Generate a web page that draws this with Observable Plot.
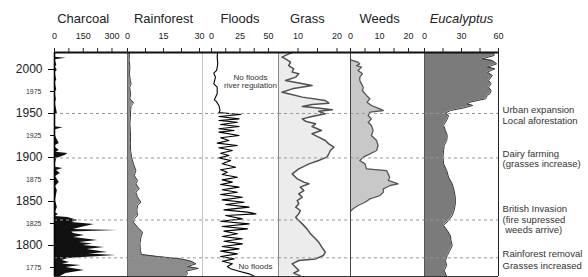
<!DOCTYPE html>
<html><head><meta charset="utf-8">
<script src="https://cdn.jsdelivr.net/npm/d3@7"></script>
<script src="https://cdn.jsdelivr.net/npm/@observablehq/plot@0.6"></script>
<style>
body{margin:0;background:#fff;}
#chart{position:relative;width:588px;height:277px;}
#chart svg{position:absolute;left:0;top:0;}
</style></head><body><div id="chart"></div>
<script>
// ---- data: [year, value] ----
const charcoal = [[2019.3,5],[2014,2],[2012.9,61],[2011,3],[2004.5,12],[2003,2],[1998.9,15],[1997,2],[1987.5,12],[1986,2],[1976.1,12],[1975,2],[1964.8,10],[1963,2],[1950.4,15],[1948,2],[1935,3],[1933.7,45],[1931.4,5],[1925,3],[1915.9,25],[1913.5,5],[1911.4,5],[1908,25],[1906,8],[1904.5,70],[1902.3,55],[1898.9,10],[1893.2,5],[1889,5],[1887.5,44],[1885.2,10],[1881.8,30],[1878.4,5],[1871.6,25],[1867,5],[1862.5,15],[1851.1,5],[1843.2,15],[1837.5,5],[1835.2,20],[1833,5],[1831.8,70],[1828.4,122],[1826.1,90],[1823.9,208],[1820.5,139],[1818.2,100],[1817,330],[1815.3,90],[1813.6,100],[1811.4,157],[1809.1,100],[1805.7,226],[1803.4,130],[1801.7,200],[1800,150],[1797.7,261],[1795.5,170],[1792,278],[1790.3,180],[1788.6,322],[1786.4,150],[1785.2,70],[1783,40],[1780.7,80],[1779,40],[1777.3,139],[1775,60],[1771.6,157],[1768.2,60],[1764.8,30]];
const rainforest = [[2019.3,0.8],[2010.2,0.7],[2002.7,1.0],[1995.1,0.8],[1987.5,1.2],[1983.7,1.5],[1979.9,0.9],[1972.4,1.3],[1966.7,1.0],[1964,2.0],[1961.7,2.5],[1959.1,1.5],[1953.4,1.3],[1945.8,1.2],[1938.3,1.0],[1930.7,1.2],[1923.1,1.3],[1915.5,1.2],[1908,1.3],[1900.4,1.7],[1892.8,2.5],[1885.2,3.5],[1879.5,2.8],[1873.9,4.2],[1870.1,3.5],[1864.4,4.9],[1860.6,3.5],[1854.9,4.2],[1849.2,5.6],[1845.5,4.2],[1839.8,3.9],[1834.1,4.2],[1830.3,2.8],[1826.5,2.5],[1820.8,4.2],[1815.1,6.3],[1809.5,5.6],[1801.9,5.2],[1794.3,5.4],[1789.8,5.8],[1787.5,12.5],[1784.8,22.2],[1782.2,26.4],[1779.2,28.5],[1776.1,25],[1774,29.5],[1771,24.5],[1768,25],[1764.8,24]];
const floods = [[2019.3,5.3],[2014,5.0],[2006.4,5.5],[1998.9,4.5],[1995.9,2.0],[1994.4,2.5],[1991.3,3.5],[1983.7,2.0],[1979.9,5.0],[1972.4,5.0],[1965.5,2.5],[1964,4.0],[1959.1,6.5],[1953.4,7.5],[1951,6.5],[1948.9,25.7],[1946.6,6.5],[1943.9,24.2],[1942,6.5],[1940.1,22.7],[1937.5,8],[1935.2,24.2],[1932.6,6.5],[1930.7,19.8],[1928.8,6.5],[1925,24.2],[1922.4,8],[1919.3,15.3],[1916.3,5],[1913.6,22.7],[1911,6.5],[1908,18.3],[1904.9,8],[1902.3,15.3],[1899.6,6.5],[1896.6,16.8],[1892.8,9.4],[1889,21.2],[1886,8],[1883.3,13.9],[1880.7,9.4],[1877.6,22.7],[1874.6,9.4],[1872,18.3],[1869.3,8],[1866.3,24.2],[1863.3,9.4],[1860.6,22.7],[1858,8],[1854.9,27.1],[1851.9,9.4],[1849.2,28.6],[1846.6,12.4],[1843.6,33],[1840.5,10.9],[1837.9,31.6],[1836,39],[1834.1,12.4],[1830.3,27.1],[1827.6,8],[1824.6,33],[1821.6,9.4],[1818.9,31.6],[1816.3,10.9],[1813.3,22.7],[1810.2,9.4],[1807.6,27.1],[1804.9,10.9],[1801.9,27.1],[1798.9,9.4],[1796.2,24.2],[1793.6,8],[1790.5,22.7],[1787.5,8],[1784.8,19.8],[1782.2,9.4],[1779.2,18.3],[1776.1,13.9],[1773.5,16.8],[1770.8,24.2],[1767.8,33],[1764.8,38]];
const grass = [[2019.3,8.5],[2017.8,7.65],[2014,5.9],[2012.1,6.8],[2008.3,8.1],[2004.5,7.6],[2000.8,8.9],[1997,8.5],[1995.1,10.2],[1991.3,9.4],[1987.5,6.8],[1981.8,13.6],[1978,8.5],[1974.2,5.9],[1972.4,7.6],[1968.6,11.1],[1964.8,17.0],[1961.7,17.9],[1960.2,13.6],[1958,11.1],[1956.4,14.5],[1954.2,18.8],[1952.6,15.3],[1949.6,17.0],[1946.6,13.6],[1943.9,11.1],[1941.3,11.9],[1938.3,14.5],[1935.2,13.6],[1930.7,16.0],[1926.9,13.6],[1923.1,15.3],[1919.3,17.0],[1915.5,17.9],[1911.7,19.2],[1908,18.3],[1904.2,17.9],[1900.4,17.4],[1896.6,15.3],[1892.8,12.8],[1887.1,10.2],[1881.4,8.5],[1875.8,9.8],[1872,11.5],[1870.1,12.8],[1866.3,10.6],[1862.5,11.5],[1858.7,10.2],[1854.9,11.1],[1851.1,9.8],[1847.3,10.2],[1843.6,9.4],[1839.8,10.6],[1836,10.2],[1832.2,9.4],[1828.4,10.2],[1824.6,11.1],[1818.9,12.3],[1813.3,13.2],[1807.6,14.5],[1803.8,15.3],[1798.1,16.1],[1792.4,17.0],[1788.6,16.5],[1784.8,14.5],[1783,10.2],[1779.2,8.5],[1775.4,9.4],[1771.6,10.2],[1768.6,8.9],[1765.5,10.6]];
const weeds = [[2011,0],[2008.3,2.6],[2006.4,3.2],[2004.5,2.1],[2002.7,3.8],[1998.9,2.6],[1995.1,4.1],[1991.3,3.2],[1987.5,3.2],[1983.7,3.8],[1979.9,4.4],[1976.1,4.1],[1970.5,5.5],[1966.7,6.7],[1962.9,5.7],[1959.1,7.2],[1955.3,10.1],[1953.4,11.3],[1951.5,6.7],[1947.7,6.1],[1943.9,7.2],[1940.1,6.1],[1936.4,7.2],[1930.7,7.8],[1925,7.2],[1919.3,9.0],[1913.6,9.5],[1908,9.0],[1904.2,6.7],[1900.4,4.4],[1896.6,3.2],[1892.8,5.0],[1887.1,5.5],[1885.2,12.4],[1881.4,13],[1877.6,13.5],[1873.9,13],[1870.1,16.4],[1868.2,13.6],[1864.4,11.3],[1860.6,11.3],[1856.8,10.1],[1853,6.7],[1849.2,5.0],[1845.5,2.6],[1841.7,0.9],[1839,0]];
const eucalyptus = [[2019.3,56],[2015.9,56.5],[2012.1,47],[2010.2,55],[2006.4,58.5],[2002.7,51],[2000.8,57],[1997,51],[1993.2,55],[1987.5,52],[1983.7,54],[1979.9,52],[1976.1,54],[1972.4,53],[1970.5,51],[1966.7,49.5],[1962.9,37],[1961,34.5],[1959.1,39],[1956.4,32],[1953.4,21],[1950.4,17],[1947.7,19.5],[1943.9,18.5],[1940.1,17],[1936.4,15.5],[1930.7,17],[1925,18.5],[1919.3,18],[1913.6,16],[1908,15.5],[1900.4,15],[1892.8,15.5],[1885.2,18],[1877.6,19.5],[1870.1,22.5],[1862.5,24],[1854.9,25],[1847.3,25],[1839.8,24],[1834.1,22.5],[1828.4,19.5],[1822.7,15.5],[1817,18.5],[1811.4,21],[1805.7,21.5],[1800,22.5],[1794.3,20.5],[1788.6,18.5],[1783,17],[1777.3,18],[1771.6,16],[1764.8,18]];

const titles = ["Charcoal", "Rainforest", "Floods", "Grass", "Weeds", "Eucalyptus"];
const majorYears = [2000, 1950, 1900, 1850, 1800];
const minorYears = [1975, 1925, 1875, 1825, 1775];
const eventYears = [1950, 1899.5, 1829, 1786];
const annotationYears = [1954.5, 1942.0, 1904.5, 1893.2, 1842.0, 1829.5, 1818.2, 1790.9, 1777.3];
const annotationLabels = ["Urban expansion", "Local aforestation", "Dairy farming", "(grasses increase)", "British Invasion", "(fire supressed", "\u00a0weeds arrive)", "Rainforest removal", "Grasses increased"];
const floodNoteYears = [1990.9, 1981.8, 1776.1];
const floodNoteLabels = ["No floods", "river regulation", "No floods"];
const floodNoteX = [34.2, 34.2, 38.6];

const yearDomain = [1764.8, 2019.3];
const W = 588, H = 277;
const FONT = "'Liberation Sans', Arial, Helvetica, sans-serif";
const Y = d => d[0], V = d => d[1];

function panel(cfg) {
  const marks = [
    ...cfg.marks,
    Plot.ruleY(eventYears, {stroke: "#9a9a9a", strokeDasharray: "3,3", strokeWidth: 1}),
    ...(cfg.lines || []),
    Plot.ruleY([yearDomain[1]], {stroke: "#111", strokeWidth: 2.2}),
    Plot.ruleY([yearDomain[0]], {stroke: "#333", strokeWidth: 1}),
    Plot.axisX({anchor: "top", ticks: cfg.ticks, tickFormat: d => cfg.labels.includes(d) ? String(d) : "", tickSize: 5, tickPadding: 9, fontSize: 9, fill: "#222", stroke: "#222"}),
    Plot.text([cfg.title], {x: () => cfg.titleX, frameAnchor: "top", dy: -39, text: d => d, fontSize: 13, fontStyle: cfg.italic ? "italic" : "normal", fill: "#222"}),
    ...(cfg.extra || [])
  ];
  const opts = {
    width: W, height: H,
    marginLeft: cfg.left, marginRight: W - cfg.right, marginTop: 52, marginBottom: 1,
    x: {domain: cfg.domain},
    y: {domain: yearDomain},
    style: {background: "transparent", overflow: "visible", fontFamily: FONT},
    marks
  };
  if (!cfg.yAxis) opts.y.axis = null;
  return Plot.plot(opts);
}

const root = document.getElementById("chart");

root.append(panel({
  left: 54, right: 127, domain: [0, 381], ticks: [0, 75, 150, 225, 300], labels: [0, 150, 300],
  title: titles[0], titleX: 150, yAxis: true,
  marks: [Plot.areaX(charcoal, {y: Y, x: V, fill: "#111"})],
  lines: [Plot.ruleX([0], {stroke: "#000", strokeWidth: 1.6})],
  extra: [
    Plot.axisY({anchor: "left", ticks: majorYears, tickSize: 6, tickPadding: 6, fontSize: 12, tickFormat: "d", fill: "#222"}),
    Plot.axisY({anchor: "left", ticks: minorYears, tickSize: 4, tickPadding: 9, fontSize: 7, tickFormat: "d", fill: "#333"})
  ]
}));

root.append(panel({
  left: 127, right: 211, domain: [0, 35], ticks: [0, 7.5, 15, 22.5, 30], labels: [0, 15, 30],
  title: titles[1], titleX: 15,
  marks: [
    Plot.areaX(rainforest, {y: Y, x: V, fill: "#8c8c8c"}),
    Plot.line(rainforest, {y: Y, x: V, stroke: "#3a3a3a", strokeWidth: 1})
  ],
  lines: [Plot.ruleX([0], {stroke: "#666"}), Plot.ruleX([31.25], {stroke: "#c4c4c4"})]
}));

root.append(panel({
  left: 211, right: 278, domain: [0, 58.8], ticks: [0, 12.5, 25, 37.5, 50], labels: [0, 25, 50],
  title: titles[2], titleX: 25,
  marks: [Plot.line(floods, {y: Y, x: V, stroke: "#000", strokeWidth: 1.1})],
  extra: [Plot.text(floodNoteLabels, {x: (d, i) => floodNoteX[i], y: (d, i) => floodNoteYears[i], text: d => d, fontSize: 8, fill: "#333"})]
}));

root.append(panel({
  left: 278, right: 350, domain: [5, 23.46], ticks: [10, 15, 20], labels: [10, 20],
  title: titles[3], titleX: 12.4,
  marks: [
    Plot.areaX(grass, {y: Y, x1: () => 5, x2: V, fill: "#ececec"}),
    Plot.line(grass, {y: Y, x: V, stroke: "#505050", strokeWidth: 1.5})
  ],
  lines: [Plot.ruleX([5], {stroke: "#888"})]
}));

root.append(panel({
  left: 350, right: 424, domain: [0, 25.5], ticks: [0, 5, 10, 15, 20], labels: [0, 10, 20],
  title: titles[4], titleX: 10,
  marks: [
    Plot.areaX(weeds, {y: Y, x: V, fill: "#c8c8c8"}),
    Plot.line(weeds, {y: Y, x: V, stroke: "#555", strokeWidth: 1.3})
  ],
  lines: [Plot.ruleX([0], {stroke: "#444"})]
}));

root.append(panel({
  left: 424, right: 498, domain: [0, 60], ticks: [0, 15, 30, 45, 60], labels: [0, 30, 60],
  title: titles[5], titleX: 30, italic: true,
  marks: [
    Plot.areaX(eucalyptus, {y: Y, x: V, fill: "#7b7b7b"}),
    Plot.line(eucalyptus, {y: Y, x: V, stroke: "#333", strokeWidth: 1})
  ],
  lines: [Plot.ruleX([0], {stroke: "#555"}), Plot.ruleX([60], {stroke: "#222"})],
  extra: [Plot.text(annotationLabels, {x: () => 63.3, y: (d, i) => annotationYears[i], text: d => d, textAnchor: "start", fontSize: 9.5, fill: "#333"})]
}));
</script></body></html>
